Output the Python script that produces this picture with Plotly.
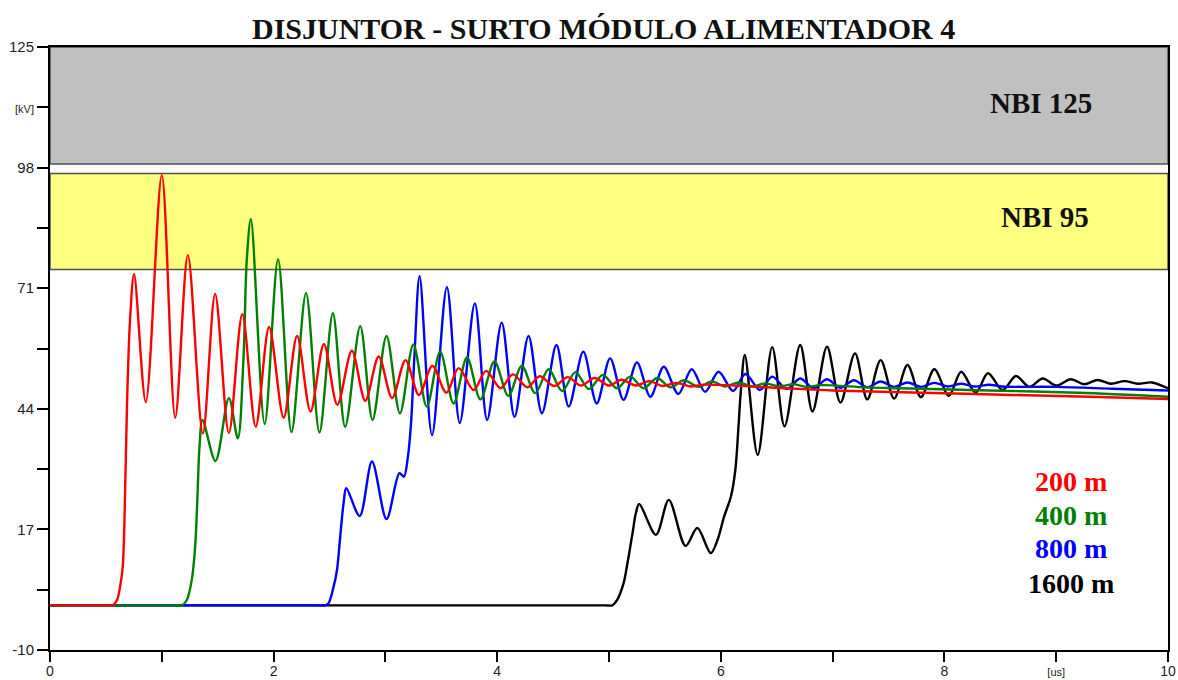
import plotly.graph_objects as go

# ---------------- data ----------------
title_text = "DISJUNTOR - SURTO MÓDULO ALIMENTADOR 4"

y_tick_vals = [-10, 3.5, 17, 30.5, 44, 57.5, 71, 84.5, 98, 111.5, 125]
y_tick_text = ["-10", "", "17", "", "44", "", "71", "", "98",
               "<span style='font-size:11px'>[kV]</span>", "125"]
x_tick_vals = [0, 1, 2, 3, 4, 5, 6, 7, 8, 9, 10]
x_tick_text = ["0", "", "2", "", "4", "", "6", "", "8",
               "<span style='font-size:11px'>[us]</span>", "10"]

nbi125_band = [98.8, 125]
nbi95_band = [75.2, 96.7]
band_labels = ["NBI 125", "NBI 95"]

series_names = ["200 m", "400 m", "800 m", "1600 m"]

red_t = [0, 0.3, 0.5, 0.56, 0.6, 0.627, 0.651, 0.674, 0.69, 0.716, 0.752,
         0.857, 1.0, 1.12, 1.233, 1.367, 1.477, 1.6, 1.72, 1.84, 1.96, 2.09,
         2.21, 2.33, 2.45, 2.57, 2.70, 2.82, 2.94, 3.06, 3.18, 3.30, 3.42,
         3.545, 3.655, 3.79, 3.90, 4.03, 4.14, 4.27, 4.38, 4.51, 4.63, 4.75,
         4.87, 5.0, 5.11, 5.24, 5.36, 5.48, 5.6, 5.73, 5.85, 6.5, 7.0, 7.8,
         8.6, 9.3, 10]
red_v = [0, 0, 0, 0, 1.2, 4.2, 8.7, 28, 46, 64, 74.2,
         45.5, 96.3, 42, 78.4, 38.5, 69.7, 38.6, 65.2, 40, 62.3, 42,
         60.3, 43.4, 58.5, 44.9, 57.0, 45.8, 55.7, 46.4, 54.9, 47.1, 53.6,
         47.6, 53.1, 48.2, 52.5, 48.6, 51.7, 48.8, 51.3, 49.1, 51.1, 49.2,
         50.9, 49.2, 50.5, 49.2, 50.2, 49.1, 49.8, 49.0, 49.4, 48.7, 48.1, 47.6,
         47.1, 46.7, 46.2]

green_t = [0, 0.6, 1.1, 1.179, 1.224, 1.268, 1.298, 1.319, 1.337, 1.364,
           1.48, 1.6, 1.68, 1.73, 1.76, 1.797, 1.92, 2.04, 2.16, 2.29, 2.41,
           2.53, 2.64, 2.775, 2.885, 3.01, 3.13, 3.25, 3.37, 3.49, 3.61, 3.73,
           3.85, 3.975, 4.10, 4.22, 4.34, 4.46, 4.58, 4.70, 4.82, 4.945, 5.07,
           5.19, 5.31, 5.43, 5.55, 5.67, 5.8, 5.92, 6.04, 6.16, 6.28, 6.4,
           6.52, 6.65, 6.77, 6.89, 7.3, 7.6, 8.4, 9.2, 10]
green_v = [0, 0, 0, 0, 1.2, 5.7, 13.1, 24.3, 35.5, 41.5,
           32.3, 46.4, 37.4, 54.9, 77.3, 86.5, 40.6, 77.5, 38.8, 69.9, 38.7,
           65.4, 40.0, 62.5, 41.5, 60.3, 43.0, 58.4, 44.5, 56.8, 45.2, 55.5,
           46.1, 54.6, 46.9, 53.6, 47.5, 52.85, 48.0, 52.2, 48.4, 51.6, 48.6,
           51.2, 48.6, 50.9, 48.8, 50.4, 48.9, 50.1, 49.0, 49.9, 49.0, 49.7,
           49.0, 49.5, 48.9, 49.3, 48.8, 48.6, 48.1, 47.6, 46.7]

blue_t = [0, 1.0, 2.0, 2.4, 2.46, 2.49, 2.537, 2.567, 2.596, 2.626, 2.65,
          2.77, 2.88, 3.01, 3.125, 3.165, 3.2, 3.23, 3.26, 3.306,
          3.417, 3.55, 3.665, 3.80, 3.91, 4.04, 4.155, 4.28, 4.40, 4.53, 4.64,
          4.77, 4.89, 5.01, 5.13, 5.25, 5.37, 5.49, 5.62, 5.74, 5.86, 5.98,
          6.11, 6.22, 6.35, 6.46, 6.59, 6.71, 6.83, 6.95, 7.07, 7.19, 7.31,
          7.43, 7.55, 7.67, 7.79, 7.91, 8.03, 8.15, 8.27, 8.4, 8.52, 9.0,
          9.5, 10]
blue_v = [0, 0, 0, 0, 0, 0.4, 4.2, 7.9, 15.4, 22.9, 26.2,
          20.0, 32.2, 19.3, 29.6, 28.8, 33, 41, 56, 73.7,
          38.1, 71.2, 40.8, 67.6, 41.5, 63.3, 42.2, 60.3, 43.0, 58.3, 44.5,
          56.8, 45.2, 55.3, 46.0, 54.4, 46.7, 53.4, 47.3, 52.85, 47.8, 52.3,
          48.0, 51.8, 48.2, 51.2, 48.4, 50.8, 48.6, 50.6, 48.7, 50.4, 48.8,
          50.1, 48.9, 49.9, 48.9, 49.8, 49.0, 49.6, 49.0, 49.4, 49.0, 48.9,
          48.5, 48.1]

black_t = [0, 2.0, 4.0, 4.9, 4.97, 5.03, 5.073, 5.13, 5.16, 5.21, 5.24, 5.27,
           5.42, 5.535, 5.685, 5.79, 5.91, 5.97, 6.03, 6.09, 6.13, 6.16, 6.18,
           6.215, 6.33, 6.46, 6.57, 6.71, 6.82, 6.95, 7.07, 7.20, 7.31, 7.43,
           7.55, 7.67, 7.79, 7.91, 8.04, 8.15, 8.28, 8.39, 8.52, 8.64, 8.76,
           8.88, 9.0, 9.13, 9.25, 9.37, 9.49, 9.61, 9.73, 9.855, 10]
black_v = [0, 0, 0, 0, 0, 0, 1.2, 4.9, 8.7, 16.1, 20.6, 22.7,
           15.8, 23.6, 13.3, 17.3, 11.7, 14.6, 19.9, 24.3, 30.3, 40.8, 48.2,
           56.05, 33.7, 57.8, 40.1, 58.3, 43.4, 57.9, 45.4, 56.4, 46.1, 54.9,
           46.3, 53.8, 46.6, 52.85, 46.9, 52.3, 47.6, 51.95, 48.2, 51.35, 48.9,
           50.8, 49.2, 50.6, 49.5, 50.45, 49.6, 50.2, 49.6, 49.9, 48.6]

legend_y = [27.7, 20.2, 12.8, 5.0]

# ---------------- styling ----------------
colors = {"200 m": "#ff0000", "400 m": "#008000", "800 m": "#0000ff", "1600 m": "#000000"}
serif = "Liberation Serif, Times New Roman, serif"
sans = "Liberation Sans, Arial, sans-serif"

fig = go.Figure()

series = {
    "200 m": (red_t, red_v),
    "400 m": (green_t, green_v),
    "800 m": (blue_t, blue_v),
    "1600 m": (black_t, black_v),
}
# draw order: black at bottom, red on top
for name in ["1600 m", "800 m", "400 m", "200 m"]:
    t, v = series[name]
    fig.add_trace(go.Scatter(
        x=t, y=v, mode="lines", name=name,
        line=dict(color=colors[name], width=2.4, shape="spline", smoothing=0.9),
        showlegend=False, hoverinfo="skip",
    ))

fig.add_shape(type="rect", xref="x", yref="y", x0=0, x1=10,
              y0=nbi125_band[0], y1=nbi125_band[1],
              fillcolor="#c0c0c0", line=dict(color="#505050", width=1.5), layer="below")
fig.add_shape(type="rect", xref="x", yref="y", x0=0, x1=10,
              y0=nbi95_band[0], y1=nbi95_band[1],
              fillcolor="#ffff80", line=dict(color="#505050", width=1.5), layer="below")

fig.add_annotation(x=8.86, y=112.5, xref="x", yref="y", text="<b>" + band_labels[0] + "</b>",
                   showarrow=False, font=dict(family=serif, size=29, color="#111"))
fig.add_annotation(x=8.9, y=86.9, xref="x", yref="y", text="<b>" + band_labels[1] + "</b>",
                   showarrow=False, font=dict(family=serif, size=29, color="#111"))

for name, ly in zip(series_names, legend_y):
    fig.add_annotation(x=9.13, y=ly, xref="x", yref="y", text="<b>" + name + "</b>",
                       showarrow=False, font=dict(family=serif, size=28, color=colors[name]))

plot_h = 680 - 47 - 30
fig.add_annotation(x=(603 - 50) / 1118, y=1 + (47 - 28) / plot_h, xref="paper", yref="paper",
                   text="<b>" + title_text + "</b>",
                   showarrow=False, font=dict(family=serif, size=30, color="#111"),
                   yanchor="middle", xanchor="center")

fig.update_layout(
    width=1178, height=680,
    margin=dict(l=50, r=10, t=47, b=30, autoexpand=False),
    plot_bgcolor="white", paper_bgcolor="white",
    xaxis=dict(range=[0, 10], tickvals=x_tick_vals, ticktext=x_tick_text,
               showgrid=False, zeroline=False, showline=True, linecolor="black",
               linewidth=2, mirror=True, ticks="outside", ticklen=10, tickwidth=2,
               tickcolor="black", automargin=False, ticklabelstandoff=-3,
               tickfont=dict(family=sans, size=14, color="#222")),
    yaxis=dict(range=[-10, 125], tickvals=y_tick_vals, ticktext=y_tick_text,
               showgrid=False, zeroline=False, showline=True, linecolor="black",
               linewidth=2, mirror=True, ticks="outside", ticklen=11, tickwidth=2,
               tickcolor="black", automargin=False,
               tickfont=dict(family=sans, size=15, color="#222")),
)

fig.write_html(
    "out.html",
    config={"displayModeBar": False},
    post_script="document.body.style.margin='0';document.body.style.overflow='hidden';",
)
